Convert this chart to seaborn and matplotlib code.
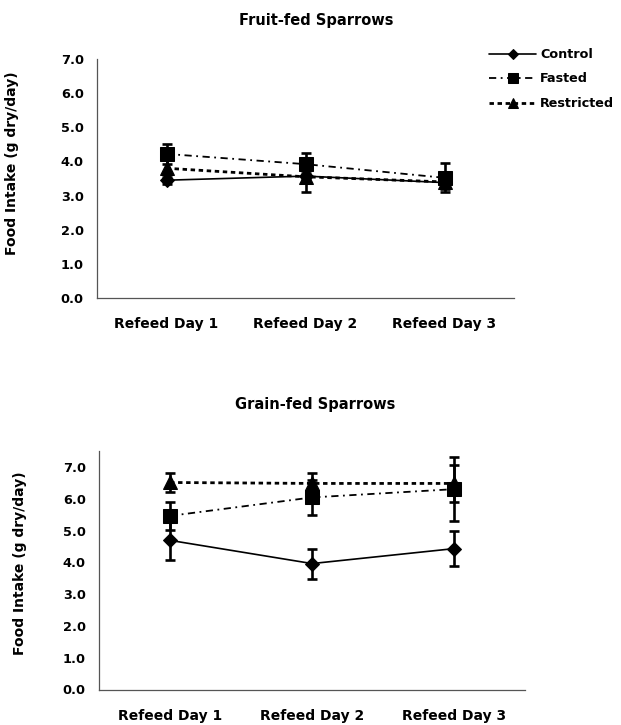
import numpy as np
import pandas as pd
import matplotlib
matplotlib.use("Agg")
import matplotlib.pyplot as plt
import seaborn as sns
from matplotlib.ticker import FormatStrFormatter

days = ["Refeed Day 1", "Refeed Day 2", "Refeed Day 3"]
groups = ["Control", "Fasted", "Restricted"]

fruit_control = [3.45, 3.57, 3.38]
fruit_control_err = [0.10, 0.10, 0.10]
fruit_fasted = [4.22, 3.92, 3.52]
fruit_fasted_err = [0.30, 0.33, 0.42]
fruit_restricted = [3.80, 3.55, 3.40]
fruit_restricted_err = [0.30, 0.45, 0.20]

grain_control = [4.69, 3.96, 4.43]
grain_control_err = [0.62, 0.47, 0.56]
grain_fasted = [5.46, 6.04, 6.30]
grain_fasted_err = [0.45, 0.56, 1.01]
grain_restricted = [6.51, 6.48, 6.48]
grain_restricted_err = [0.30, 0.33, 0.58]

panels = {
    "Fruit-fed Sparrows": [(fruit_control, fruit_control_err),
                           (fruit_fasted, fruit_fasted_err),
                           (fruit_restricted, fruit_restricted_err)],
    "Grain-fed Sparrows": [(grain_control, grain_control_err),
                           (grain_fasted, grain_fasted_err),
                           (grain_restricted, grain_restricted_err)],
}

styles = {
    "Control": dict(marker="D", markersize=7, lw=1.2, dashes=None),
    "Fasted": dict(marker="s", markersize=9.5, lw=1.3, dashes=(4, 2.5, 1, 2.5)),
    "Restricted": dict(marker="^", markersize=10, lw=2.0, dashes=(1.6, 1.3)),
}

sns.set_style("white")
plt.rcParams["font.family"] = ["DejaVu Sans"]
plt.rcParams["font.weight"] = "bold"
plt.rcParams["text.color"] = "black"
plt.rcParams["axes.labelcolor"] = "black"
plt.rcParams["xtick.color"] = "black"
plt.rcParams["ytick.color"] = "black"

fig = plt.figure(figsize=(6.21, 7.25), dpi=100)
ax_top = fig.add_axes([97 / 621, 1 - 298 / 725, (514 - 97) / 621, (298 - 59) / 725])
ax_bot = fig.add_axes([99 / 621, 1 - 689.5 / 725, (525 - 99) / 621, (689.5 - 451) / 725])

for ax, (title, series), ymax, ylab_xy, title_xy in [
    (ax_top, list(panels.items())[0], 7.0, (-0.187, 0.565), (316, 20)),
    (ax_bot, list(panels.items())[1], 7.5, (-0.169, 0.53), (315, 405)),
]:
    for g, (vals, errs) in zip(groups, series):
        df = pd.DataFrame({"day": days, "value": vals})
        st = styles[g]
        kw = dict(color="black", marker=st["marker"], markersize=st["markersize"],
                  markeredgecolor="black", markerfacecolor="black", lw=st["lw"],
                  label=g, sort=False, errorbar=None, zorder=3)
        if st["dashes"] is not None:
            kw["dashes"] = st["dashes"]
        sns.lineplot(data=df, x="day", y="value", ax=ax, **kw)
        ax.errorbar(np.arange(len(days)), vals, yerr=errs, fmt="none",
                    ecolor="black", elinewidth=1.9, capsize=3.6, capthick=1.9, zorder=2)
    if ax.get_legend() is not None:
        ax.get_legend().remove()

    ax.set_xlim(-0.5, 2.5)
    ax.set_ylim(0, ymax)
    ax.set_yticks(np.arange(0, 8, 1.0))
    ax.yaxis.set_major_formatter(FormatStrFormatter("%.1f"))
    ax.set_xticks([0, 1, 2])
    ax.set_xticklabels(days, fontsize=10, fontweight="bold", color="black")
    ax.set_xticks([0.5, 1.5, 2.5], minor=True)
    ax.tick_params(axis="x", which="major", length=0, pad=14, labelcolor="black")
    ax.tick_params(axis="x", which="minor", length=3, width=0.8, direction="out", color="#444444")
    ax.tick_params(axis="y", which="major", length=3.5, width=0.8, direction="out",
                   color="#444444", labelsize=9.3, pad=6, labelcolor="black")
    for lab in ax.get_yticklabels():
        lab.set_fontweight("bold")
    ax.set_xlabel("")
    ax.set_ylabel("Food Intake (g dry/day)", fontsize=10, fontweight="bold", color="black")
    ax.yaxis.set_label_coords(*ylab_xy)
    sns.despine(ax=ax)
    for sp in ["left", "bottom"]:
        ax.spines[sp].set_color("#555555")
        ax.spines[sp].set_linewidth(0.9)
    fig.text(title_xy[0] / 621, 1 - title_xy[1] / 725, title, ha="center", va="center",
             fontsize=10.5, fontweight="bold", color="black")

handles, labels = ax_top.get_legend_handles_labels()
leg = fig.legend(handles, labels, loc="upper left",
                 bbox_to_anchor=(489 / 621, 1 - 48 / 725), frameon=False,
                 fontsize=9.2, handlelength=3.7, handletextpad=0.3,
                 labelspacing=0.9, borderpad=0, borderaxespad=0, markerscale=0.75)
for t in leg.get_texts():
    t.set_fontweight("bold")
    t.set_color("black")

fig.savefig("out.png", dpi=100, facecolor="white")
